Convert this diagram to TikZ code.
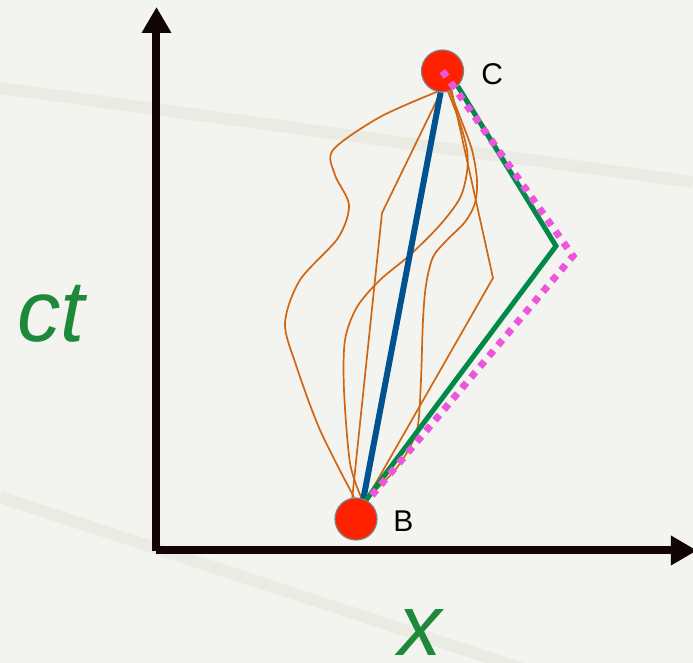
\documentclass[tikz,border=0pt]{standalone}
\usepackage{fontspec}
\setmainfont{Liberation Sans}
\usetikzlibrary{arrows.meta}
\definecolor{bgpaper}{RGB}{243,244,239}
\definecolor{streak}{RGB}{234,236,227}
\definecolor{axisink}{RGB}{16,4,4}
\definecolor{wline}{RGB}{208,102,20}
\definecolor{geod}{RGB}{0,82,145}
\definecolor{lightg}{RGB}{0,137,72}
\definecolor{lightm}{RGB}{238,85,221}
\definecolor{axgreen}{RGB}{30,137,58}
\definecolor{eventred}{RGB}{255,34,0}
\begin{document}
\begin{tikzpicture}[x=0.5pt, y=-0.5pt,
  axis/.style={axisink, line width=4pt, -{Triangle[length=13pt, width=14pt]}},
  eventpt/.style={circle, fill=eventred, draw=black!50, line width=0.6pt, minimum size=21pt, inner sep=0pt},
  ptname/.style={inner sep=0pt, font=\fontsize{15pt}{18pt}\selectfont},
  axname/.style={inner sep=0pt, text=axgreen, font=\fontsize{43.5pt}{48pt}\selectfont\itshape},
  wpath/.style={wline, line width=0.85pt},
  geodpath/.style={geod, line width=3pt},
  lightpath/.style={lightg, line width=2.5pt, line join=miter},
  dotpath/.style={lightm, line width=3.5pt, dash pattern=on 3.5pt off 3.5pt}]
\useasboundingbox (0,0) rectangle (693,663);
\clip (0,0) rectangle (693,663);
\fill[bgpaper] (0,0) rectangle (693,663);
\draw[streak, line width=6pt] (0,88) -- (693,182);
\draw[streak, line width=6pt] (0,497) -- (693,725);
% axes
\draw[axis] (156.5,551) -- (156.5,7);
\draw[axis] (156.5,550.5) -- (697,550.5);
\node[axname, anchor=base west] (tname) at (17,342) {ct};
\node[axname, anchor=base west] (xname) at (398,656) {x};
% events
\node[eventpt] (C) at (442.5,71) {};
\node[eventpt] (B) at (356,519) {};
\node[ptname, anchor=base west] (Cname) at (481,85) {C};
\node[ptname, anchor=base west] (Bname) at (393,532) {B};
% world lines
\draw[wpath] plot[smooth, tension=0.5] coordinates {(C.255) (380,117) (333,150) (335,175) (349,205) (338,238) (300,280) (285,323) (296,365) (320,430) (B.95)};
\draw[wpath] (C.265) -- (382,213) -- (B.100);
\draw[wpath] plot[smooth, tension=0.5] coordinates {(C.285) (460,123) (467,150) (467,172) (460,198) (440,225) (410,255) (380,280) (357,307) (345,340) (344,390) (350,463) (B.75)};
\draw[wpath] plot[smooth, tension=0.5] coordinates {(C.290) (460,117) (472,150) (477,180) (475,203) (465,222) (447,240) (433,257) (426,285) (423,320) (421,380) (418,425) (410,447) (395,470) (B.62)};
\draw[wpath] (C.295) -- (493,278) -- (B.62);
\draw[geodpath] (C.265) -- (B.70);
\draw[lightpath] (C.315) -- (556,246) -- (B.62);
\draw[dotpath] (C.center) -- (573,256) -- (B.58);
\end{tikzpicture}
\end{document}
